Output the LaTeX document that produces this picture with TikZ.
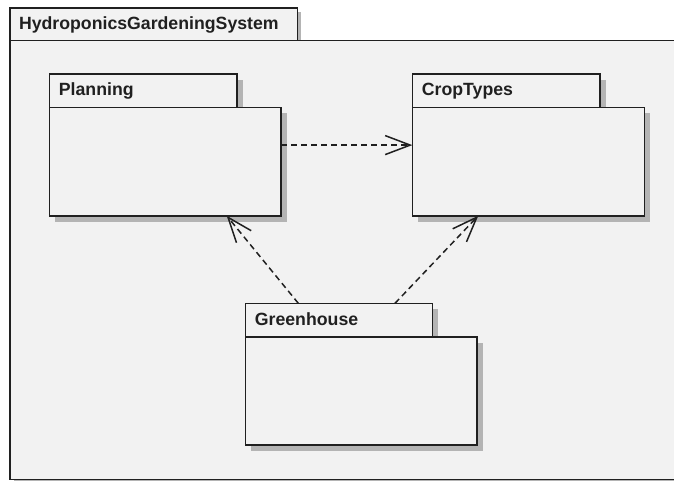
\documentclass[tikz,border=0pt]{standalone}
\usepackage{fontspec}
\newfontfamily\pkgfont{Liberation Sans}
\usetikzlibrary{arrows.meta,shadows}
\definecolor{bgfill}{HTML}{F2F2F2}
\definecolor{inkc}{HTML}{202020}
\definecolor{shadowc}{HTML}{B4B4B4}
\tikzset{
  pkgshape/.style={draw=inkc, line width=1.6pt, fill=bgfill, rectangle, inner sep=0pt, outer sep=0pt, anchor=north west,
    drop shadow={shadow xshift=6pt, shadow yshift=-6pt, fill=shadowc, opacity=1}},
  outershape/.style={draw=inkc, line width=1.6pt, fill=bgfill, rectangle, inner sep=0pt, outer sep=0pt, anchor=north west,
    drop shadow={shadow xshift=4pt, shadow yshift=-4pt, fill=shadowc, opacity=1}},
  pkgname/.style={anchor=base west, inner sep=0pt, text=inkc, font=\pkgfont\bfseries\fontsize{17.7}{21}\selectfont},
  dep/.style={draw=inkc, line width=1.5pt, dash pattern=on 6pt off 4pt, -{Straight Barb[length=25pt,width=19pt,line width=1.5pt]}},
}
\begin{document}
\begin{tikzpicture}[x=1pt,y=-1pt]
\useasboundingbox (0,0) rectangle (674,481);
\fill[white] (0,0) rectangle (674,481);
\clip (0,0) rectangle (674,481);
% outer package
\node[outershape, minimum width=287.3pt, minimum height=32.5pt] (outer-tab) at (10,8) {};
\node[outershape, minimum width=700pt, minimum height=439pt] (outer-body) at (10,40.5) {};
\node[pkgname] (outer-name) at (18.8,29.2) {HydroponicsGardeningSystem};
% Planning
\node[pkgshape, minimum width=187.4pt, minimum height=33.5pt] (plan-tab) at (49.3,74) {};
\node[pkgshape, minimum width=231.7pt, minimum height=108.2pt] (plan) at (49.3,107.5) {};
\node[pkgname] (plan-name) at (58.7,95.7) {Planning};
% CropTypes
\node[pkgshape, minimum width=187.7pt, minimum height=33.5pt] (crop-tab) at (412.3,74) {};
\node[pkgshape, minimum width=232pt, minimum height=108.2pt] (crop) at (412.3,107.5) {};
\node[pkgname] (crop-name) at (421.7,95.7) {CropTypes};
% Greenhouse
\node[pkgshape, minimum width=187pt, minimum height=33.7pt] (gh-tab) at (245.3,303.3) {};
\node[pkgshape, minimum width=231.7pt, minimum height=108pt] (gh) at (245.3,337) {};
\node[pkgname] (gh-name) at (254.7,325) {Greenhouse};
% dependencies
\draw[dep] ([yshift=16.5pt]plan.east) -- ([yshift=16.5pt]crop.west);
\draw[dep] ([xshift=-40.5pt]gh-tab.north) -- ([xshift=61.5pt]plan.south);
\draw[dep] ([xshift=56.2pt]gh-tab.north) -- ([xshift=-50pt]crop.south);
\end{tikzpicture}
\end{document}
